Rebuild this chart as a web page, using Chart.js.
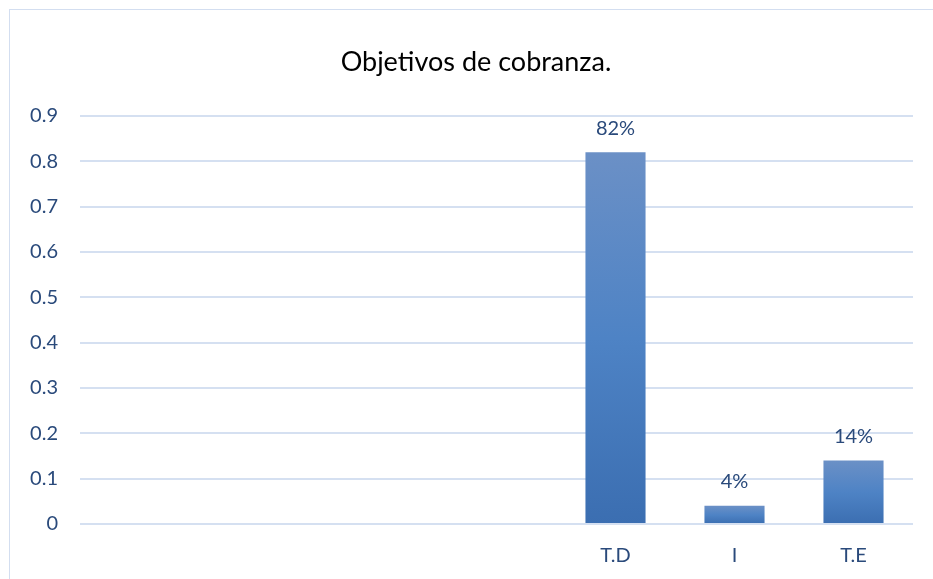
<!DOCTYPE html>
<html>
<head>
<meta charset="utf-8">
<script src="https://cdn.jsdelivr.net/npm/chart.js@4/dist/chart.umd.min.js"></script>
<style>
  html, body { margin: 0; padding: 0; background: #ffffff; }
  #wrap { position: relative; width: 933px; height: 579px; overflow: hidden; }
  #frame { position: absolute; left: 9px; top: 9px; width: 1000px; height: 700px; border: 1px solid #d3def0; box-sizing: border-box; }
  canvas { position: absolute; left: 0; top: 0; }
</style>
</head>
<body>
<div id="wrap">
  <div id="frame"></div>
  <canvas id="c" width="933" height="579"></canvas>
</div>
<script>
const categories = ['', '', '', '', 'T.D', 'I', 'T.E'];
const values = [null, null, null, null, 0.82, 0.04, 0.14];
const valueLabels = ['', '', '', '', '82%', '4%', '14%'];
const titleText = 'Objetivos de cobranza.';

const textColor = '#2a4a7b';
const fontFamily = 'Lato, "Open Sans", sans-serif';

const dataLabelPlugin = {
  id: 'dataLabels',
  afterDatasetsDraw(chart) {
    const ctx = chart.ctx;
    const meta = chart.getDatasetMeta(0);
    ctx.save();
    ctx.fillStyle = textColor;
    ctx.font = '20px ' + fontFamily;
    ctx.textAlign = 'center';
    ctx.textBaseline = 'middle';
    meta.data.forEach((bar, i) => {
      if (values[i] == null || !valueLabels[i]) return;
      ctx.fillText(valueLabels[i], bar.x, bar.y - 24);
    });
    ctx.restore();
  }
};

const titlePlugin = {
  id: 'frameTitle',
  afterDraw(chart) {
    const ctx = chart.ctx;
    ctx.save();
    ctx.fillStyle = '#000000';
    ctx.font = '27px ' + fontFamily;
    ctx.textAlign = 'center';
    ctx.textBaseline = 'middle';
    ctx.fillText(titleText, 476, 62);
    ctx.restore();
  }
};

new Chart(document.getElementById('c'), {
  type: 'bar',
  data: {
    labels: categories,
    datasets: [{
      data: values,
      categoryPercentage: 1,
      barPercentage: 0.505,
      borderWidth: 0,
      backgroundColor(context) {
        const chart = context.chart;
        const y = chart.scales && chart.scales.y;
        const v = values[context.dataIndex];
        if (!y || v == null || !chart.chartArea) return '#4a7fc1';
        const top = y.getPixelForValue(v);
        const bottom = y.getPixelForValue(0);
        const g = chart.ctx.createLinearGradient(0, top, 0, bottom);
        g.addColorStop(0, '#6b90c6');
        g.addColorStop(0.5, '#4e83c5');
        g.addColorStop(1, '#3b6eb1');
        return g;
      }
    }]
  },
  options: {
    responsive: false,
    animation: false,
    layout: { padding: { left: 20, right: 20, top: 116, bottom: 0 } },
    plugins: {
      legend: { display: false },
      tooltip: { enabled: false },
      title: { display: false }
    },
    scales: {
      x: {
        grid: { display: false, drawTicks: false },
        border: { display: false },
        ticks: { color: textColor, font: { family: fontFamily, size: 20 }, padding: 20, maxRotation: 0, autoSkip: false },
        afterFit(scale) { scale.height = 55; }
      },
      y: {
        min: 0,
        max: 0.9,
        grid: { color: '#d5e0f1', lineWidth: 2, drawTicks: false },
        border: { display: false },
        ticks: { stepSize: 0.1, color: textColor, font: { family: fontFamily, size: 20 }, padding: 22,
          callback(v) { return Math.round(v * 10) / 10; } },
        afterFit(scale) { scale.width = 60; }
      }
    }
  },
  plugins: [dataLabelPlugin, titlePlugin]
});
</script>
</body>
</html>
